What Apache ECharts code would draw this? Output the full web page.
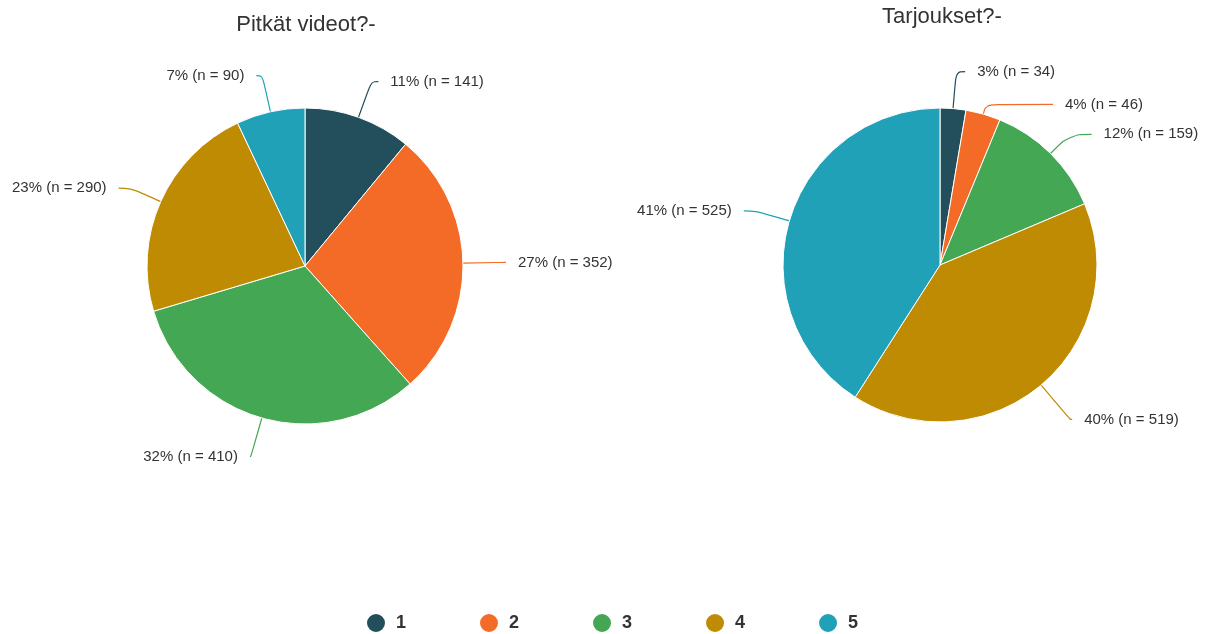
<!DOCTYPE html>
<html>
<head>
<meta charset="utf-8">
<script src="https://cdn.jsdelivr.net/npm/echarts@6/dist/echarts.min.js"></script>
<style>
  html, body { margin: 0; padding: 0; background: #fff; }
  #chart { width: 1214px; height: 634px; }
</style>
</head>
<body>
<div id="chart"></div>
<script>
// Answer options (shared by both questions)
const categories = ['1', '2', '3', '4', '5'];
const colors = ['#234e5b', '#f36b26', '#44a753', '#be8b03', '#21a1b7'];

// Question titles
const titles = ['Pitkät videot?-', 'Tarjoukset?-'];

// Response counts per option
const longVideos = [141, 352, 410, 290, 90];
const offers = [34, 46, 159, 519, 525];

// Per-slice leader line lengths [radial, horizontal]
const longVideosLines = [[38, 7], [34, 9], [40, 1], [33, 12], [37, 6]];
const offersLines = [[37, 9], [10, 67], [27, 22], [45, 2], [35, 12]];

const FONT = 'Liberation Sans, Arial, Helvetica, sans-serif';

function sum(arr) { return arr.reduce((a, b) => a + b, 0); }

function makeData(values, lines) {
  return values.map((v, i) => ({
    name: categories[i],
    value: v,
    labelLine: { length: lines[i][0], length2: lines[i][1] }
  }));
}

function makePie(values, lines, center, radius) {
  const total = sum(values);
  return {
    type: 'pie',
    center: center,
    radius: radius,
    startAngle: 90,
    clockwise: true,
    avoidLabelOverlap: true,
    data: makeData(values, lines),
    itemStyle: { borderColor: '#ffffff', borderWidth: 1 },
    label: {
      show: true,
      position: 'outside',
      color: '#333',
      fontFamily: FONT,
      fontSize: 15,
      distanceToLabelLine: 12,
      formatter: p => Math.round(p.value / total * 100) + '% (n = ' + p.value + ')'
    },
    labelLine: {
      show: true,
      length: 34,
      length2: 10,
      smooth: 0.4,
      lineStyle: { width: 1.2 }
    },
    emphasis: { disabled: true }
  };
}

const chart = echarts.init(document.getElementById('chart'), null, { renderer: 'canvas' });

chart.setOption({
  animation: false,
  color: colors,
  backgroundColor: '#ffffff',
  title: [
    {
      text: titles[0], left: 301, top: 9, textAlign: 'center',
      textStyle: { fontFamily: FONT, fontSize: 22, fontWeight: 'normal', color: '#333' }
    },
    {
      text: titles[1], left: 937, top: 1, textAlign: 'center',
      textStyle: { fontFamily: FONT, fontSize: 22, fontWeight: 'normal', color: '#333' }
    }
  ],
  legend: {
    data: categories,
    left: 360,
    top: 607,
    icon: 'circle',
    itemWidth: 20,
    itemHeight: 20,
    itemGap: 72,
    textStyle: { fontFamily: FONT, fontSize: 18, fontWeight: 'bold', color: '#333', padding: [0, 0, 0, 5] }
  },
  series: [
    makePie(longVideos, longVideosLines, [305, 266], 158),
    makePie(offers, offersLines, [940, 265], 157)
  ]
});
</script>
</body>
</html>
